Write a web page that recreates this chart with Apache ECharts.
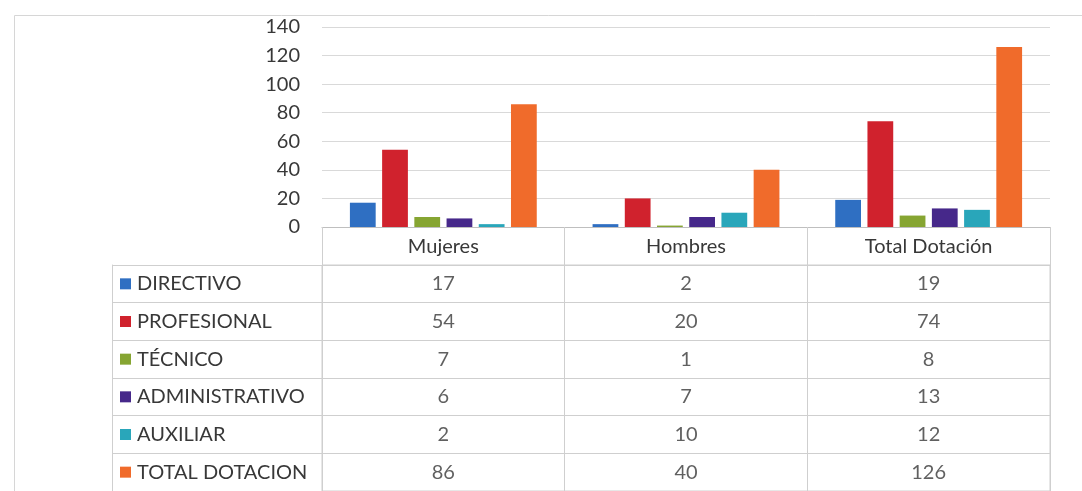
<!DOCTYPE html>
<html>
<head>
<meta charset="utf-8">
<script src="https://cdn.jsdelivr.net/npm/echarts@6/dist/echarts.min.js"></script>
<style>
html,body{margin:0;padding:0;background:#fff;}
#chart{width:1082px;height:491px;}
</style>
</head>
<body>
<div id="chart"></div>
<script>
const categories = ['Mujeres', 'Hombres', 'Total Dotación'];
const seriesNames = ['DIRECTIVO', 'PROFESIONAL', 'TÉCNICO', 'ADMINISTRATIVO', 'AUXILIAR', 'TOTAL DOTACION'];
const directivo = [17, 2, 19];
const profesional = [54, 20, 74];
const tecnico = [7, 1, 8];
const administrativo = [6, 7, 13];
const auxiliar = [2, 10, 12];
const totalDotacion = [86, 40, 126];
const yTicks = [0, 20, 40, 60, 80, 100, 120, 140];
const colors = ['#2f6fc2', '#d0222d', '#86a532', '#46288a', '#29a6ba', '#f06b2b'];

const seriesValues = [directivo, profesional, tecnico, administrativo, auxiliar, totalDotacion];
const FONT = 'Lato';
const FS = 20;
const TXT = '#383838';

const rich = { t: { fontFamily: FONT, fontSize: FS, color: TXT, padding: [0, 0, 0, 6] } };
colors.forEach((c, i) => {
  rich['s' + i] = { width: 11, height: 11, backgroundColor: c };
});

const barSeries = seriesNames.map((name, i) => ({
  name: name,
  type: 'bar',
  xAxisIndex: 0,
  yAxisIndex: 0,
  data: seriesValues[i],
  itemStyle: { color: colors[i] },
  barGap: '25%',
  barCategoryGap: '23%'
}));

const tableData = [];
seriesValues.forEach((vals, r) => {
  vals.forEach((v, c) => tableData.push([c, r, v]));
});

const option = {
  animation: false,
  backgroundColor: '#ffffff',
  graphic: [{
    type: 'rect',
    left: 12, top: 13,
    shape: { width: 1100, height: 500 },
    style: { fill: 'none', stroke: '#d6d6d6', lineWidth: 1 },
    z: -10
  }],
  grid: [
    { left: 322, right: 32, top: 27, height: 200 },
    { left: 322, right: 32, top: 265, height: 234, show: true, borderColor: '#cfcfcf', borderWidth: 1 }
  ],
  xAxis: [
    {
      type: 'category', gridIndex: 0, data: categories,
      axisLine: { show: true, lineStyle: { color: '#bfbfbf' } },
      axisTick: { show: true, length: 38, lineStyle: { color: '#cfcfcf' } },
      axisLabel: { fontFamily: FONT, fontSize: FS, color: TXT, margin: 10 }
    },
    {
      type: 'category', gridIndex: 1, data: categories,
      axisLine: { show: false }, axisTick: { show: false }, axisLabel: { show: false },
      splitLine: { show: true, lineStyle: { color: '#cfcfcf' } }
    }
  ],
  yAxis: [
    {
      type: 'value', gridIndex: 0, min: yTicks[0], max: yTicks[yTicks.length - 1], interval: 20,
      axisLine: { show: false }, axisTick: { show: false },
      axisLabel: { fontFamily: FONT, fontSize: FS, color: TXT, margin: 22 },
      splitLine: { lineStyle: { color: '#d9d9d9' } }
    },
    {
      type: 'category', gridIndex: 1, data: seriesNames, inverse: true,
      axisLine: { show: true, lineStyle: { color: '#cfcfcf' } },
      axisTick: { show: true, length: 210, lineStyle: { color: '#cfcfcf' } },
      axisLabel: {
        align: 'left', margin: 202,
        formatter: (v, i) => '{s' + i + '|}{t|' + v + '}',
        rich: rich
      },
      splitLine: { show: true, lineStyle: { color: '#cfcfcf' } }
    },
    {
      type: 'category', gridIndex: 1, data: seriesNames, inverse: true, position: 'left', offset: 210,
      axisLine: { show: true, lineStyle: { color: '#cfcfcf' } },
      axisTick: { show: false }, axisLabel: { show: false }
    }
  ],
  series: barSeries.concat([{
    type: 'scatter',
    xAxisIndex: 1,
    yAxisIndex: 1,
    data: tableData,
    symbolSize: 1,
    itemStyle: { color: 'rgba(0,0,0,0)' },
    label: {
      show: true, position: 'inside',
      formatter: p => String(p.value[2]),
      fontFamily: FONT, fontSize: FS, color: TXT
    },
    silent: true
  }])
};

const chart = echarts.init(document.getElementById('chart'), null, { renderer: 'canvas' });
chart.setOption(option);
</script>
</body>
</html>
